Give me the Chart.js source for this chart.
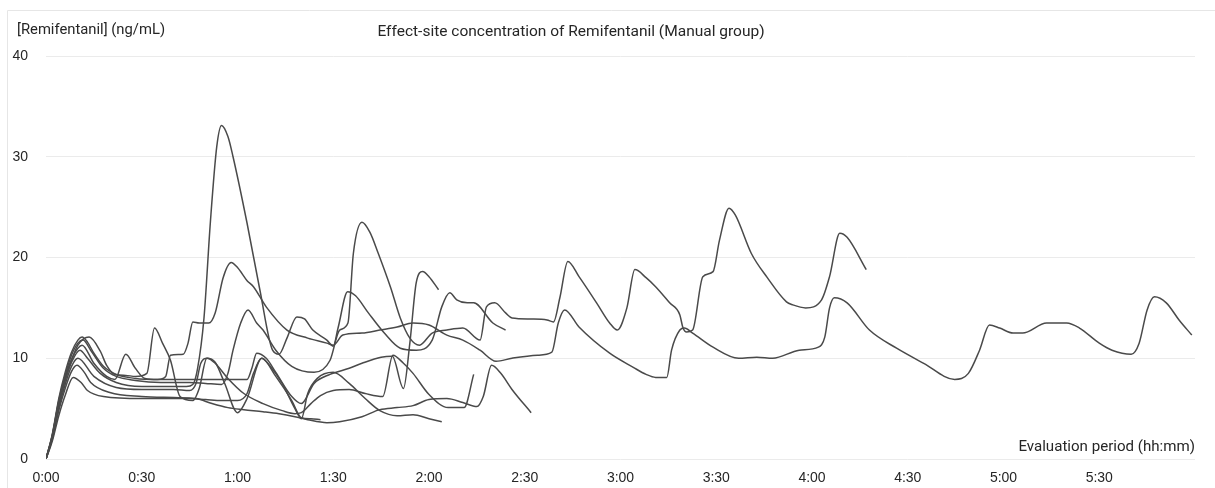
<!DOCTYPE html>
<html>
<head>
<meta charset="utf-8">
<title>Effect-site concentration of Remifentanil (Manual group)</title>
<script src="https://cdn.jsdelivr.net/npm/chart.js@4/dist/chart.umd.min.js"></script>
<style>
  html, body { margin: 0; padding: 0; background: #ffffff; }
  #wrap { width: 1215px; height: 488px; }
</style>
</head>
<body>
<div id="wrap"><canvas id="c" width="1215" height="488"></canvas></div>
<script>
// Time since start of infusion (minutes) and effect-site concentration (ng/mL) per patient
const p1Time = [0,2,4,6,8,10,11.3,13,15,18,22,28,35,37.5,39,43,44.5,46,48,51,53,55.5,58,60,63,65,69,75.5,82,88,90,93,99,104.6,110,115,120,125.6,130.6,136,141,146,154,158.5,160.5,162.5,167,176.6,184,188,191,194.5,196,198.6,200,202.6,209,217,222.7,227.7,236,242,244,245.5,247,251,258,266.5,275,284.7,289,292.5,295.6,298.8,303,306,313.5,319.8,323.8,330,334,340,342.5,345,347.3,351,355,359];
const p1Conc = [0,2.5,6,8.6,10.6,11.8,12.1,11.6,10.5,9.2,8.4,8.0,7.9,8.2,10.3,10.4,11.5,13.6,13.5,13.5,14.5,18,19.5,19.0,17.7,17.1,15.1,12.8,12.0,11.5,11.3,12.3,12.5,12.8,13.1,13.5,13.3,12.3,11.8,10.8,9.7,10,10.3,10.6,13.5,14.8,13.1,10.5,9.1,8.4,8.1,8.1,10.8,12.8,13,12.5,11.1,10,10.1,10,10.8,11.1,12.1,15,16,15.5,12.8,11,9.5,7.9,8.5,10.8,13.3,13,12.5,12.5,13.5,13.5,13,11.5,10.8,10.4,11.5,14.8,16.1,15.5,13.8,12.3];

const p2Time = [0,2,4,6,8,10,11.6,14,18,22,28,36,45,50,55,57,58.6,61,63.3,66,68,72,77,84,89,92,94.6,96.3,99,101.5,104,108,111,114,117,121,125.6,130.6,136,138,140.6,144,146,152,157,159,161,163.5,167,172.5,176.6,179,182,184.5,188,191,195.4,198.6,199.5,200.7,202.6,205.8,209,211,214,216,221,226,232,234,238,243,245.5,248.7,251,257];
const p2Conc = [0,2.4,5.8,8.3,10.3,11.5,11.8,10.8,9.0,8.2,7.8,7.6,7.6,7.5,7.4,8.5,10.8,13.5,14.8,13.5,12.8,10.8,9.2,8.6,9.8,12.8,13.5,20.4,23.5,22.5,20.5,17,14,12,11.3,12.5,12.8,13.0,11.8,15.1,15.5,14.5,14,13.9,13.8,13.6,16,19.6,18.1,15.5,13.5,12.8,15,18.8,18.0,17.1,15.5,14.3,13.1,12.6,12.8,18.1,18.6,21.7,24.9,24.2,20.4,18,15.6,15.3,15,15.8,18.1,22.4,22,18.8];

const p3Time = [0,2,4,6,8,10.6,13,17,22,30,44,46,47.5,49.5,51.5,53.5,55,57,58.6,63,67,71,73,75.5,78.6,81,83.6,88,90,91.5,94.5,97,101,106,111,116,121,124,126.5,128.7,132,134,140,144];
const p3Conc = [0,2.3,5.5,7.8,9.6,10.8,10,8.5,7.6,7.2,7.2,7.4,9,14,23.5,31,33.1,32,30,23.4,16.8,10.8,10.4,12,14.1,13.9,12.8,11.8,11.2,13,16.6,16.2,14.5,12.5,11,10.8,11.8,15.1,16.5,15.8,15.5,15.5,13.5,12.8];

const p4Time = [0,2,4,6,8,10,11.3,15,19,21.6,25,28,31,35,45,55,63,64.5,66,69,72,77,80,84,89,95,99,105,108.5,112,114,116,118,120,123];
const p4Conc = [0,2.4,5.7,8.1,9.9,11,11.3,9.5,8.2,7.9,10.4,9,8,7.9,7.9,7.9,7.9,9,10.5,10,8.6,6.2,5.5,7.5,8.4,9,9.5,10.1,10.2,7.0,11.5,17.5,18.6,18.1,16.8];

const p5Time = [0,2,4,6,8,10,13.5,17,19,21.6,25,28,31.6,34,36.5,39,42,46,48,50.4,53,56,60,63,67.6,72,77,80,83,86];
const p5Conc = [0,2.2,5.3,7.8,9.8,11.3,12.1,10.7,9.3,8.4,8.3,8.2,8.5,13,11.5,9.8,6.2,5.8,7,10,9.6,7.5,4.6,6,10,8.2,5.8,4.1,4,3.9];

const p6Time = [0,2,4,6,8,9.7,12,14,20,30,40,47,52,57,62,68,73,78,82,88,92,99,104.6,110,115,120,125.6,130.6,135,137,139.6,142.5,146,152];
const p6Conc = [0,2,4.8,7,8.7,9.3,8.6,7.6,6.6,6.2,6.1,6,5.5,5.1,4.9,4.7,4.5,4.2,3.9,3.6,3.7,4.2,4.9,5.1,5.3,5.9,6.0,5.6,5.2,6.2,9.3,8.5,6.9,4.6];

const p7Time = [0,2,4,6,8.5,11,13,18,30,40,45,50,55,60,63,65,67.6,70,74,78,80,82,85,90,95,100,104.6,110,115,120,124];
const p7Conc = [0,1.8,4.3,6.3,8.1,7.6,6.8,6.2,6,6,6,5.9,5.8,5.8,6.5,8.5,10,9.3,7.5,5,4,6.5,8,8.6,7.5,6,4.8,4.3,4.4,4,3.7];

const p8Time = [0,2,4,6,8,10,15,22,30,40,45,47,48.5,50.5,53,57,62,68,74,78,80,83,86,90,95,100,105.5,108.7,112,115,120,126,131,134];
const p8Conc = [0,2.1,5,7.4,9.2,10,8.2,7.1,6.9,6.9,6.8,7.5,9.5,10,9.5,8,6.5,5.5,4.8,4.5,4.6,5.5,6.3,6.8,6.9,6.5,6.2,10.3,9.5,8.5,6.4,5.1,5.1,8.4];

// Axis ticks
const xTickLabels = ['0:00','0:30','1:00','1:30','2:00','2:30','3:00','3:30','4:00','4:30','5:00','5:30'];
const yTicks = [0, 10, 20, 30, 40];

const series = [
  [p1Time, p1Conc], [p2Time, p2Conc], [p3Time, p3Conc], [p4Time, p4Conc],
  [p5Time, p5Conc], [p6Time, p6Conc], [p7Time, p7Conc], [p8Time, p8Conc]
];

const datasets = series.map(([t, c], i) => ({
  label: 'Patient ' + (i + 1),
  data: t.map((x, k) => ({ x: x, y: c[k] })),
  borderColor: '#4a4a4a',
  borderWidth: 1.5,
  pointRadius: 0,
  fill: false,
  cubicInterpolationMode: 'monotone'
}));

// Titles and chart frame
const chartText = {
  id: 'chartText',
  afterDraw(chart) {
    const ctx = chart.ctx;
    const area = chart.chartArea;
    ctx.save();
    ctx.strokeStyle = '#e6e6e6';
    ctx.lineWidth = 1;
    ctx.beginPath();
    ctx.moveTo(7.5, 488);
    ctx.lineTo(7.5, 10.5);
    ctx.lineTo(1215, 10.5);
    ctx.stroke();

    ctx.fillStyle = '#262626';
    ctx.textBaseline = 'middle';
    ctx.font = '15.5px Roboto';
    ctx.textAlign = 'center';
    ctx.fillText('Effect-site concentration of Remifentanil (Manual group)', 571, 32);

    ctx.font = '14.8px Roboto';
    ctx.textAlign = 'left';
    ctx.fillText('[Remifentanil] (ng/mL)', 17, 30);

    ctx.font = '15.1px Roboto';
    ctx.textAlign = 'right';
    ctx.fillText('Evaluation period (hh:mm)', area.right, 447);
    ctx.restore();
  }
};

new Chart(document.getElementById('c'), {
  type: 'line',
  data: { datasets: datasets },
  options: {
    responsive: false,
    animation: false,
    events: [],
    layout: { padding: { left: 0, right: 20, top: 56, bottom: 0 } },
    plugins: {
      legend: { display: false },
      title: { display: false },
      tooltip: { enabled: false }
    },
    scales: {
      x: {
        type: 'linear',
        min: 0,
        max: 360,
        afterFit(scale) { scale.height = 29; },
        afterBuildTicks(scale) {
          scale.ticks = xTickLabels.map((_, i) => ({ value: i * 30 }));
        },
        ticks: {
          autoSkip: false,
          maxRotation: 0,
          padding: 11,
          color: '#262626',
          font: { family: 'Liberation Sans', size: 14 },
          callback: (v) => xTickLabels[Math.round(v / 30)]
        },
        grid: { display: false, drawTicks: false },
        border: { display: false }
      },
      y: {
        min: 0,
        max: 40,
        afterFit(scale) { scale.width = 46; },
        afterBuildTicks(scale) {
          scale.ticks = yTicks.map(v => ({ value: v }));
        },
        ticks: {
          padding: 18,
          color: '#262626',
          font: { family: 'Liberation Sans', size: 14 }
        },
        grid: { color: '#ebebeb', lineWidth: 1, drawTicks: false },
        border: { display: false }
      }
    }
  },
  plugins: [chartText]
});
</script>
</body>
</html>
